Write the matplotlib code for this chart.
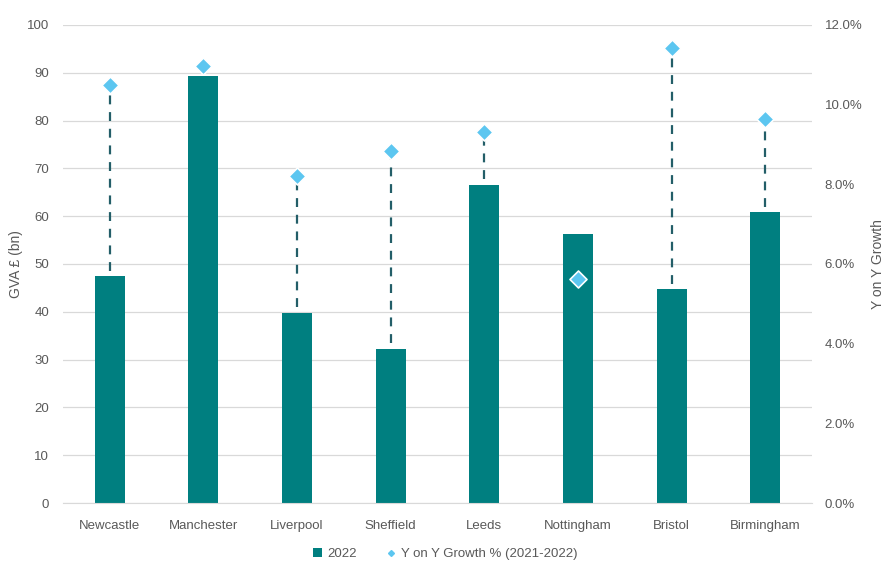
import matplotlib.pyplot as plt
from matplotlib.ticker import FuncFormatter
from matplotlib.lines import Line2D
from matplotlib.patches import Patch

cities = ["Newcastle", "Manchester", "Liverpool", "Sheffield", "Leeds", "Nottingham", "Bristol", "Birmingham"]
gva_2022 = [47.4, 89.4, 39.7, 32.2, 66.6, 56.2, 44.7, 60.8]
growth_pct = [10.49, 10.97, 8.21, 8.84, 9.31, 5.62, 11.42, 9.64]

teal = "#007F80"
light_blue = "#5CC6F0"
line_col = "#235E68"
txt = "#595959"
grid_c = "#D9D9D9"

plt.rcParams['font.family'] = ['Liberation Sans', 'DejaVu Sans']

fig = plt.figure(figsize=(8.9, 5.65), dpi=100)
ax = fig.add_axes([0.0708, 0.1097, 0.8416, 0.8461])
ax2 = ax.twinx()

x = list(range(len(cities)))
ax.bar(x, gva_2022, width=0.32, color=teal, zorder=2)

# drop lines from bar top up to growth marker (in left-axis units)
for xi, v, g in zip(x, gva_2022, growth_pct):
    top = g / 12 * 100
    if top > v + 3:
        ax.vlines(xi, v + 1.2, top - 1.5, colors=line_col, linestyles=(0, (4, 3.5)), linewidth=1.6, zorder=3)

ax2.scatter(x, growth_pct, marker="D", s=75, color=light_blue, edgecolors="white", linewidths=1.2, zorder=4)

ax.set_xlim(-0.5, len(cities) - 0.5)
ax.set_ylim(0, 100)
ax2.set_ylim(0, 12)
ax.set_yticks(range(0, 101, 10))
ax2.set_yticks(range(0, 13, 2))
ax2.yaxis.set_major_formatter(FuncFormatter(lambda v, p: f"{v:.1f}%"))
ax.set_xticks(x)
ax.set_xticklabels(cities)

ax.grid(axis="y", color=grid_c, linewidth=0.9, zorder=0)
ax.set_axisbelow(True)
for a in (ax, ax2):
    for s in a.spines.values():
        s.set_visible(False)
    a.tick_params(length=0, colors=txt, labelsize=9.5)
ax.spines["bottom"].set_visible(True)
ax.spines["bottom"].set_color(grid_c)
ax.tick_params(axis="x", pad=12)
ax.tick_params(axis="y", pad=10)
ax2.tick_params(axis="y", pad=9)

ax.set_ylabel("GVA £ (bn)", color=txt, fontsize=10, labelpad=3)
ax2.set_ylabel("Y on Y Growth", color=txt, fontsize=10, labelpad=6)

handles = [Patch(facecolor=teal, edgecolor="none"),
           Line2D([], [], marker="D", color=light_blue, linestyle="none", markersize=3)]
fig.legend(handles, ["2022", "Y on Y Growth % (2021-2022)"], loc="center", bbox_to_anchor=(0.5, 0.019),
           ncol=2, frameon=False, fontsize=9.5, labelcolor=txt, handlelength=0.7, handleheight=0.7,
           handletextpad=0.4, columnspacing=2.2)

fig.savefig("out.png", dpi=100)
